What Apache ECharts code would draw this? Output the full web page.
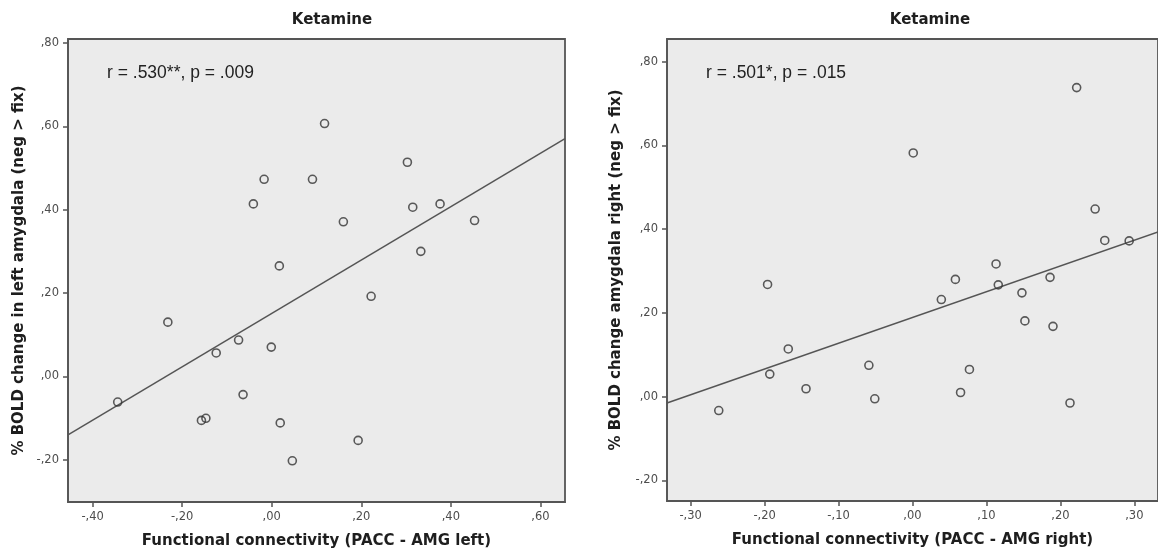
<!DOCTYPE html>
<html>
<head>
<meta charset="utf-8">
<title>Ketamine</title>
<script src="https://cdn.jsdelivr.net/npm/echarts@6/dist/echarts.min.js"></script>
<style>
  html, body { margin: 0; padding: 0; background: #fff; }
  #chart { width: 1158px; height: 554px; }
</style>
</head>
<body>
<div id="chart"></div>
<script>
// values
var leftX = [0.118, -0.017, 0.091, -0.041, 0.303, 0.315, 0.376, 0.160, 0.453, 0.333, 0.017, 0.222,
             -0.232, -0.074, -0.124, -0.001, -0.344, -0.064, -0.157, -0.147, 0.019, 0.193, 0.046];
var leftY = [0.607, 0.473, 0.473, 0.414, 0.514, 0.406, 0.414, 0.371, 0.374, 0.300, 0.265, 0.192,
             0.130, 0.087, 0.056, 0.070, -0.062, -0.044, -0.106, -0.101, -0.112, -0.154, -0.203];
var rightX = [0.222, 0.001, 0.247, 0.260, 0.293, 0.113, -0.196, 0.058, 0.116, 0.186, 0.039, 0.148,
              0.152, 0.190, -0.168, -0.193, -0.059, 0.077, -0.144, -0.051, 0.065, -0.262, 0.213];
var rightY = [0.738, 0.582, 0.448, 0.373, 0.372, 0.317, 0.268, 0.280, 0.267, 0.285, 0.232, 0.248,
              0.181, 0.168, 0.114, 0.054, 0.075, 0.065, 0.019, -0.005, 0.010, -0.033, -0.015];

// fit lines: [intercept, slope]
var leftFit = [0.151, 0.641];
var rightFit = [0.189, 0.615];

var leftXTicks = [-0.4, -0.2, 0, 0.2, 0.4, 0.6];
var leftYTicks = [-0.2, 0, 0.2, 0.4, 0.6, 0.8];
var rightXTicks = [-0.3, -0.2, -0.1, 0, 0.1, 0.2, 0.3];
var rightYTicks = [-0.2, 0, 0.2, 0.4, 0.6, 0.8];

var leftXRange = [-0.455, 0.655];
var leftYRange = [-0.302, 0.81];
var rightXRange = [-0.332, 0.332];
var rightYRange = [-0.249, 0.854];

var panelTitles = ['Ketamine', 'Ketamine'];
var statLabels = ['r = .530**, p = .009', 'r = .501*, p = .015'];
var xNames = ['Functional connectivity (PACC - AMG left)', 'Functional connectivity (PACC - AMG right)'];
var yNames = ['% BOLD change in left amygdala (neg > fix)', '% BOLD change amygdala right (neg > fix)'];

function fmt(v) {
  var s = Math.abs(v).toFixed(2).replace(/^0/, '').replace('.', ',');
  return (v < -1e-9 ? '-' : '') + s;
}

function zip(xs, ys) {
  return xs.map(function (x, i) { return [x, ys[i]]; });
}

function fitLine(fit, range) {
  return range.map(function (x) { return [x, fit[0] + fit[1] * x]; });
}

var boldFont = 'bold 15px "DejaVu Sans"';
var statFont = '17.5px "Liberation Sans"';

function axisFor(idx, range, ticks, name, gap) {
  return {
    type: 'value', gridIndex: idx, min: range[0], max: range[1],
    name: name, nameLocation: 'middle', nameGap: gap,
    nameTextStyle: { fontFamily: 'DejaVu Sans', fontWeight: 'bold', fontSize: 15, color: '#1e1e1e' },
    axisLine: { show: true, onZero: false, lineStyle: { color: '#555', width: 1.5 } },
    axisTick: { show: true, length: 5, customValues: ticks, lineStyle: { color: '#555', width: 1.5 } },
    axisLabel: { customValues: ticks, formatter: fmt, margin: 9,
                 fontFamily: 'DejaVu Sans', fontSize: 11.5, color: '#4d4d4d' },
    splitLine: { show: false }
  };
}

var scatterStyle = {
  type: 'scatter', symbol: 'circle', symbolSize: 8, z: 3,
  itemStyle: { color: 'rgba(0,0,0,0)', borderColor: '#333', borderWidth: 1.6 }
};

var option = {
  animation: false,
  backgroundColor: '#fff',
  grid: [
    { left: 68, right: 593, top: 39, bottom: 52, show: true,
      backgroundColor: '#ebebeb', borderColor: '#555', borderWidth: 1.8 },
    { left: 667, right: -4, top: 39, bottom: 53, show: true,
      backgroundColor: '#ebebeb', borderColor: '#555', borderWidth: 1.8 }
  ],
  xAxis: [
    axisFor(0, leftXRange, leftXTicks, xNames[0], 32),
    axisFor(1, rightXRange, rightXTicks, xNames[1], 32)
  ],
  yAxis: [
    axisFor(0, leftYRange, leftYTicks, yNames[0], 41),
    axisFor(1, rightYRange, rightYTicks, yNames[1], 43)
  ],
  graphic: [
    { type: 'text', x: 332, y: 20, style: { text: panelTitles[0], font: boldFont, fill: '#1e1e1e',
      textAlign: 'center', textVerticalAlign: 'middle' } },
    { type: 'text', x: 930, y: 20, style: { text: panelTitles[1], font: boldFont, fill: '#1e1e1e',
      textAlign: 'center', textVerticalAlign: 'middle' } },
    { type: 'text', x: 107, y: 73, z: 10, style: { text: statLabels[0], font: statFont,
      fill: '#222', textAlign: 'left', textVerticalAlign: 'middle' } },
    { type: 'text', x: 706, y: 73, z: 10, style: { text: statLabels[1], font: statFont,
      fill: '#222', textAlign: 'left', textVerticalAlign: 'middle' } }
  ],
  series: [
    { type: 'line', xAxisIndex: 0, yAxisIndex: 0, data: fitLine(leftFit, leftXRange),
      showSymbol: false, silent: true, z: 2, lineStyle: { color: '#555', width: 1.5 } },
    Object.assign({ xAxisIndex: 0, yAxisIndex: 0, data: zip(leftX, leftY) }, scatterStyle),
    { type: 'line', xAxisIndex: 1, yAxisIndex: 1, data: fitLine(rightFit, rightXRange),
      showSymbol: false, silent: true, z: 2, lineStyle: { color: '#555', width: 1.5 } },
    Object.assign({ xAxisIndex: 1, yAxisIndex: 1, data: zip(rightX, rightY) }, scatterStyle)
  ]
};

var myChart = echarts.init(document.getElementById('chart'));
myChart.setOption(option);
</script>
</body>
</html>
